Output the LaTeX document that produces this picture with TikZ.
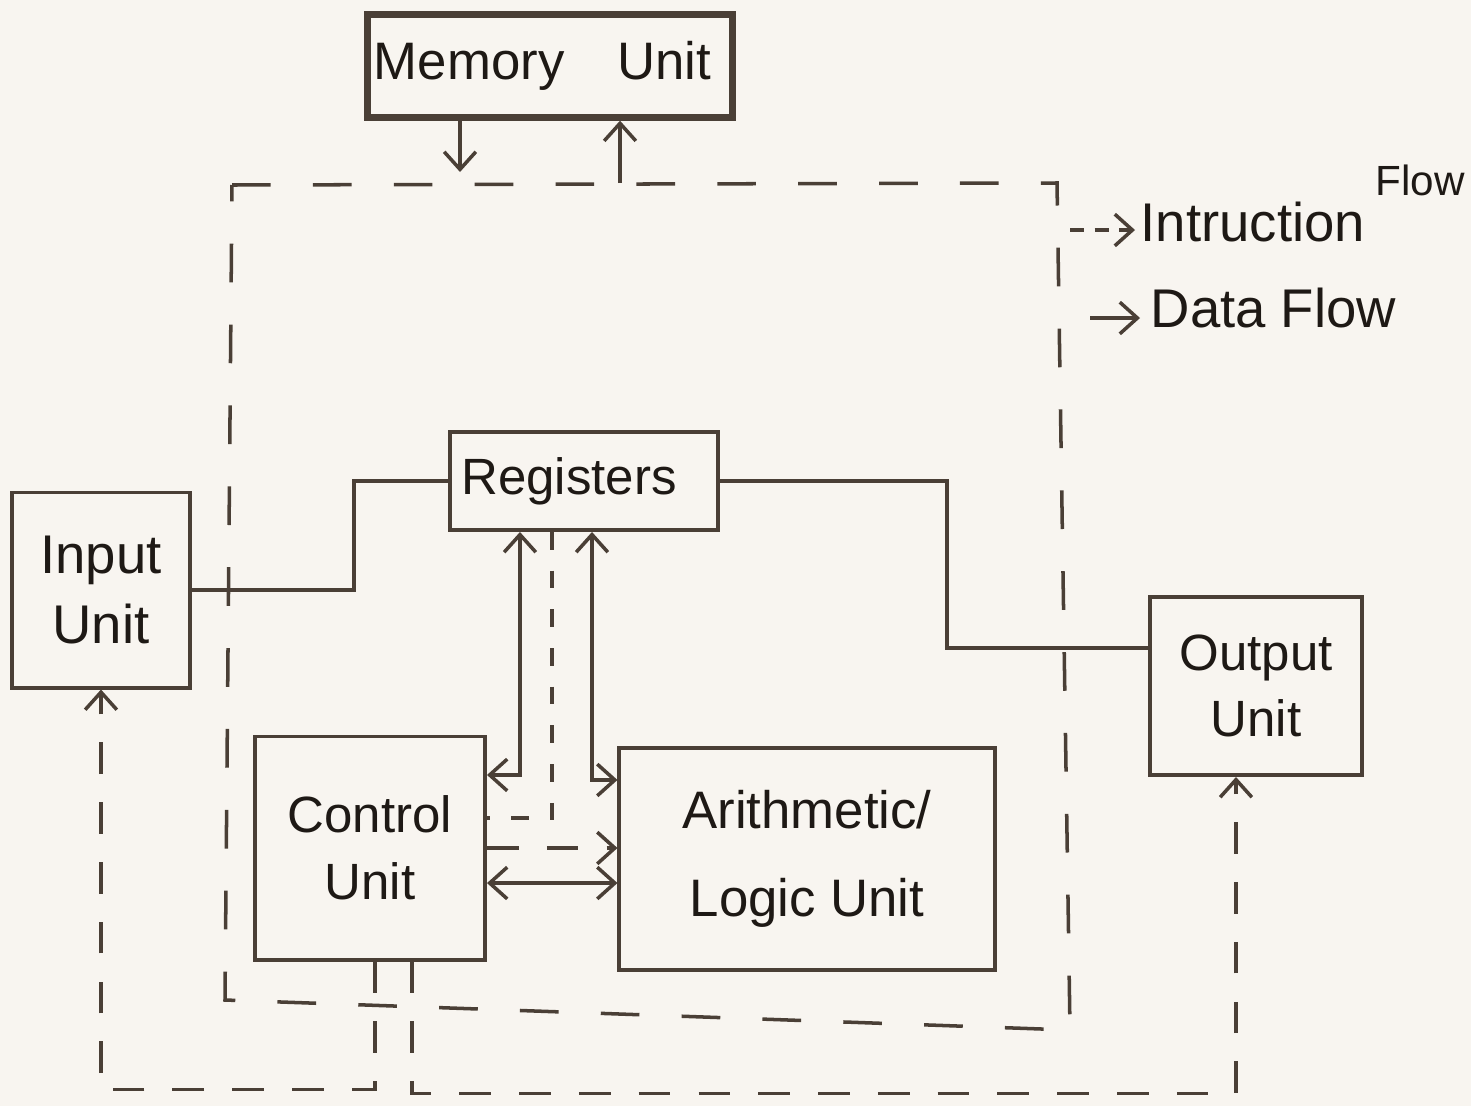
\documentclass[tikz,border=0pt]{standalone}
\usepackage{fontspec}
\setmainfont{Liberation Sans}
\usetikzlibrary{arrows.meta,calc}
\definecolor{ink}{HTML}{4A3F36}
\definecolor{txt}{HTML}{1E1915}
\definecolor{paper}{HTML}{F8F5F0}
\begin{document}
\begin{tikzpicture}[x=0.01cm,y=-0.01cm,
 box/.style={draw=ink,line width=1.1pt,rectangle,inner sep=0pt,font=\fontsize{14.5}{19}\selectfont,text=txt,align=center},
 link/.style={draw=ink,line width=1pt},
 tip/.style={-{Straight Barb[length=5pt,width=9pt]}},
 dtip/.style={{Straight Barb[length=5pt,width=9pt]}-{Straight Barb[length=5pt,width=9pt]}},
 instr/.style={link,dash pattern=on 11pt off 12pt},
 instrb/.style={link,dash pattern=on 9pt off 8pt},
 instrs/.style={link,dash pattern=on 5pt off 6pt},
 lbl/.style={font=\fontsize{15.5}{20}\selectfont,text=txt,inner sep=0pt}]
\fill[paper] (0,0) rectangle (1471,1106);
\useasboundingbox (0,0) rectangle (1471,1106);

% boxes
\node[box,line width=1.8pt,minimum width=3.65cm,minimum height=1.03cm,font=\fontsize{15}{19}\selectfont] (mem) at (550,66) {\hspace*{-0.15cm}Memory\hspace{1em}Unit};
\node[box,minimum width=2.68cm,minimum height=0.98cm] (reg) at (584,481) {\hspace*{-0.3cm}Registers};
\node[box,minimum width=1.78cm,minimum height=1.95cm,font=\fontsize{15.5}{20}\selectfont] (inp) at (101,590) {Input\\Unit};
\node[box,minimum width=2.12cm,minimum height=1.78cm] (out) at (1256,686) {Output\\Unit};
\node[box,minimum width=2.30cm,minimum height=2.23cm] (ctrl) at (370,848) {Control\\Unit};
\node[box,minimum width=3.75cm,minimum height=2.22cm,font=\fontsize{15}{19}\selectfont] (alu) at (807,859) {Arithmetic/\\[6pt]Logic Unit};

% CPU dashed boundary
\draw[instr] (232,185) -- (1057,183) -- (1070,1030) -- (225,1000) -- cycle;

% memory arrows
\coordinate (md) at (460,172);
\coordinate (mu) at (620,183);
\draw[link,tip] (mem.south -| md) -- (md);
\draw[link,tip] (mu) -- (mem.south -| mu);

% data paths
\draw[link] (inp.east) -- ++(162,0) |- (reg.west);
\draw[link] (reg.east) -- ++(227,0) |- ([yshift=0.38cm]out.west);
\draw[link,dtip] ([xshift=-0.64cm]reg.south) |- ([yshift=0.73cm]ctrl.east);
\draw[link,dtip] ([xshift=0.08cm]reg.south) |- ([yshift=0.79cm]alu.west);
\draw[instrs] ([xshift=-0.32cm]reg.south) |- ([yshift=0.30cm]ctrl.east);
\draw[instrb,tip] (ctrl.east) -- (ctrl.east -| alu.west);
\coordinate (c2) at ([yshift=-0.35cm]ctrl.east);
\draw[link,dtip] (c2) -- (c2 -| alu.west);

% control to input/output
\draw[instrb,tip] ([xshift=0.05cm]ctrl.south) -- ++(0,128) -| (inp.south);
\draw[instrb,tip] ([xshift=0.42cm]ctrl.south) -- ++(0,132) -| ([xshift=-0.2cm]out.south);

% legend
\coordinate (l1a) at (1070,230);
\coordinate (l1b) at (1135,230);
\draw[link,dash pattern=on 4pt off 3pt,tip] (l1a) -- (l1b);
\node[lbl,anchor=west] (lt1) at (1140,222) {Intruction};
\node[lbl,anchor=base west,font=\fontsize{12}{14}\selectfont] (lt1f) at (1375,195) {Flow};
\coordinate (l2a) at (1090,318);
\coordinate (l2b) at (1140,318);
\draw[link,tip] (l2a) -- (l2b);
\node[lbl,anchor=west] (lt2) at (1150,308) {Data Flow};
\end{tikzpicture}
\end{document}
